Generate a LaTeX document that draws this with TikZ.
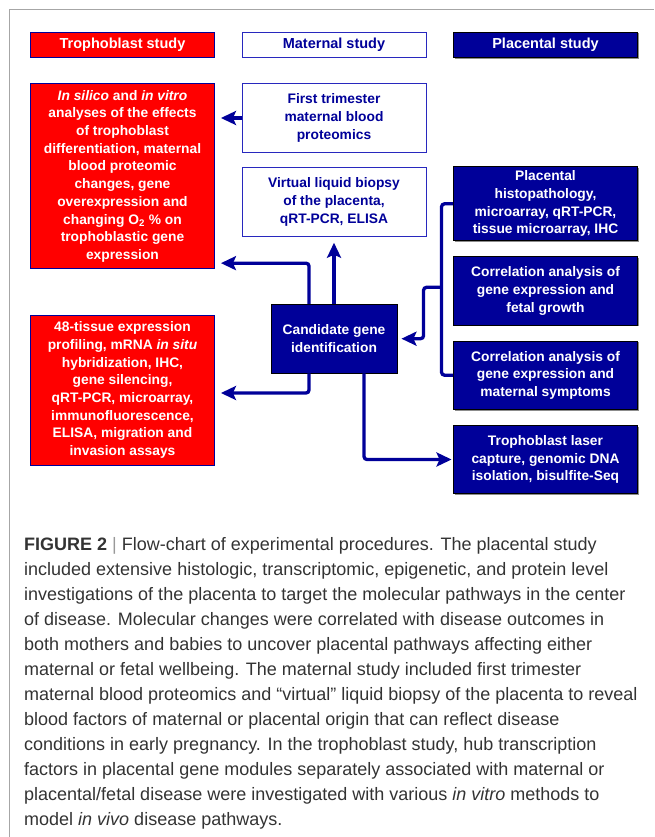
\documentclass[tikz,border=0pt]{standalone}
\usepackage{fontspec}
\setmainfont{Liberation Sans}
\usetikzlibrary{arrows.meta,shadows}
\definecolor{placblue}{RGB}{0,0,153}
\definecolor{trophred}{RGB}{255,0,0}
\definecolor{matblue}{RGB}{40,40,190}
\begin{document}
\begin{tikzpicture}[x=1pt,y=-1pt]
\tikzset{boite/.style={minimum width=184pt, inner sep=1pt, align=center, line width=0.9pt, font=\bfseries\fontsize{13.8}{17.7}\selectfont},
  redbox/.style={boite, draw=placblue, fill=trophred, text=white},
  whitebox/.style={boite, draw=matblue, fill=white, text=placblue},
  bluebox/.style={boite, draw=black, fill=placblue, text=white, drop shadow={shadow xshift=1.2pt, shadow yshift=-1.2pt, fill=black!45, opacity=1}},
  titre/.style={font=\bfseries\fontsize{14.5}{17}\selectfont, minimum height=25.4pt},
  lien/.style={draw=placblue, line width=3.3pt, rounded corners=3pt},
  fleche/.style={lien, -{Stealth[length=15pt, width=14pt, inset=3pt]}}}
\useasboundingbox (0,0) rectangle (654,837);
\draw[black!35, line width=1pt] (9,837) -- (9,10) -- (654,10);
% headers
\node[redbox, titre] (TS) at (122.5,45) {Trophoblast study};
\node[whitebox, titre] (MS) at (334,45) {Maternal study};
\node[bluebox, titre] (PS) at (545.5,45) {Placental study};
% trophoblast study
\node[redbox, minimum height=185pt] (R1) at (122.5,176.2) {\textit{In silico} and \textit{in vitro}\\ analyses of the effects\\ of trophoblast\\ differentiation, maternal\\ blood proteomic\\ changes, gene\\ overexpression and\\ changing O\textsubscript{2} \% on\\ trophoblastic gene\\ expression};
\node[redbox, minimum height=150pt] (R2) at (122.5,390) {48-tissue expression\\ profiling, mRNA \textit{in situ}\\ hybridization, IHC,\\ gene silencing,\\ qRT-PCR, microarray,\\ immunofluorescence,\\ ELISA, migration and\\ invasion assays};
% maternal study
\node[whitebox, minimum height=68.6pt] (FT) at (334,118) {First trimester\\ maternal blood\\ proteomics};
\node[whitebox, minimum height=68.6pt] (VL) at (334,202) {Virtual liquid biopsy\\ of the placenta,\\ qRT-PCR, ELISA};
\node[bluebox, minimum width=126pt, minimum height=68.5pt] (CG) at (334,338.7) {Candidate gene\\ identification};
% placental study
\node[bluebox, minimum height=73.7pt] (PH) at (545.5,203.8) {Placental\\ histopathology,\\ microarray, qRT-PCR,\\ tissue microarray, IHC};
\node[bluebox, minimum height=68.3pt] (CF) at (545.5,290.8) {Correlation analysis of\\ gene expression and\\ fetal growth};
\node[bluebox, minimum height=68.3pt] (CM) at (545.5,375.2) {Correlation analysis of\\ gene expression and\\ maternal symptoms};
\node[bluebox, minimum height=68pt] (TL) at (545.5,459.5) {Trophoblast laser\\ capture, genomic DNA\\ isolation, bisulfite-Seq};
% connectors
\draw[fleche, shorten >=6pt] (FT.west) -- (FT.west -| R1.east);
\draw[fleche, shorten >=6pt] ([xshift=-25pt]CG.north) |- ([yshift=6pt]R1.south east);
\draw[fleche, shorten >=6pt] (CG.north) -- (VL.south);
\draw[fleche, shorten >=6pt] ([xshift=-25pt]CG.south) |- ([yshift=-3pt]R2.east);
\draw[fleche, shorten >=1.5pt] ([xshift=30pt]CG.south) |- (TL.west);
\draw[lien] (PH.west) -| ([xshift=-11.5pt]CM.west) -- (CM.west);
\coordinate (J) at ([xshift=-11.5pt, yshift=3.5pt]CF.west);
\draw[fleche, shorten >=4pt] (J) -- ++(-18,0) |- (CG.east);
% caption
\node[anchor=north west, inner sep=0pt, align=left, text=black!80, font=\fontsize{18}{25}\selectfont] (legende) at (24,537.5) {\textbf{FIGURE 2} {\color{black!40}|} Flow-chart of experimental procedures. The placental study\\
included extensive histologic, transcriptomic, epigenetic, and protein level\\
investigations of the placenta to target the molecular pathways in the center\\
of disease. Molecular changes were correlated with disease outcomes in\\
both mothers and babies to uncover placental pathways affecting either\\
maternal or fetal wellbeing. The maternal study included first trimester\\
maternal blood proteomics and “virtual” liquid biopsy of the placenta to reveal\\
blood factors of maternal or placental origin that can reflect disease\\
conditions in early pregnancy. In the trophoblast study, hub transcription\\
factors in placental gene modules separately associated with maternal or\\
placental/fetal disease were investigated with various \textit{in vitro} methods to\\
model \textit{in vivo} disease pathways.};
\end{tikzpicture}
\end{document}
